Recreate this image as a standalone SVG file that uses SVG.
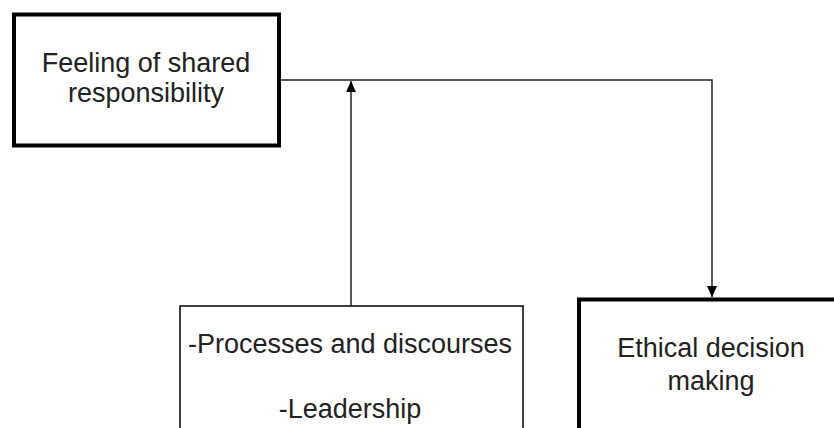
<svg xmlns="http://www.w3.org/2000/svg" width="834" height="428" viewBox="0 0 834 428">
<style>
.thick{fill:#fff;stroke:#000;stroke-width:4}
.thin{fill:#fff;stroke:#000;stroke-width:1.5}
.conn{fill:none;stroke:#222;stroke-width:1.5}
text{font-family:"Liberation Sans",Arial,sans-serif;font-size:27px;fill:#222;text-anchor:middle}
</style>
<defs>
<marker id="arr" viewBox="0 0 10 10" refX="10" refY="5" markerWidth="11" markerHeight="11" markerUnits="userSpaceOnUse" orient="auto">
<path d="M0,0.5 L10,5 L0,9.5 Z" fill="#000"/>
</marker>
</defs>
<rect width="834" height="428" fill="#fff"/>
<g id="connectors">
<path class="conn" d="M281,80 H712 V297" marker-end="url(#arr)"/>
<path class="conn" d="M351,306 V81" marker-end="url(#arr)"/>
</g>
<g id="node-shared">
<rect class="thick" x="14" y="14.5" width="265" height="131"/>
<text x="146" y="72">Feeling of shared</text>
<text x="146" y="102">responsibility</text>
</g>
<g id="node-processes">
<rect class="thin" x="180" y="306" width="343" height="140"/>
<text x="350" y="353">-Processes and discourses</text>
<text x="350" y="418">-Leadership</text>
</g>
<g id="node-ethical">
<rect class="thick" x="579" y="299.5" width="270" height="150"/>
<text x="711" y="357">Ethical decision</text>
<text x="711" y="390">making</text>
</g>
</svg>
